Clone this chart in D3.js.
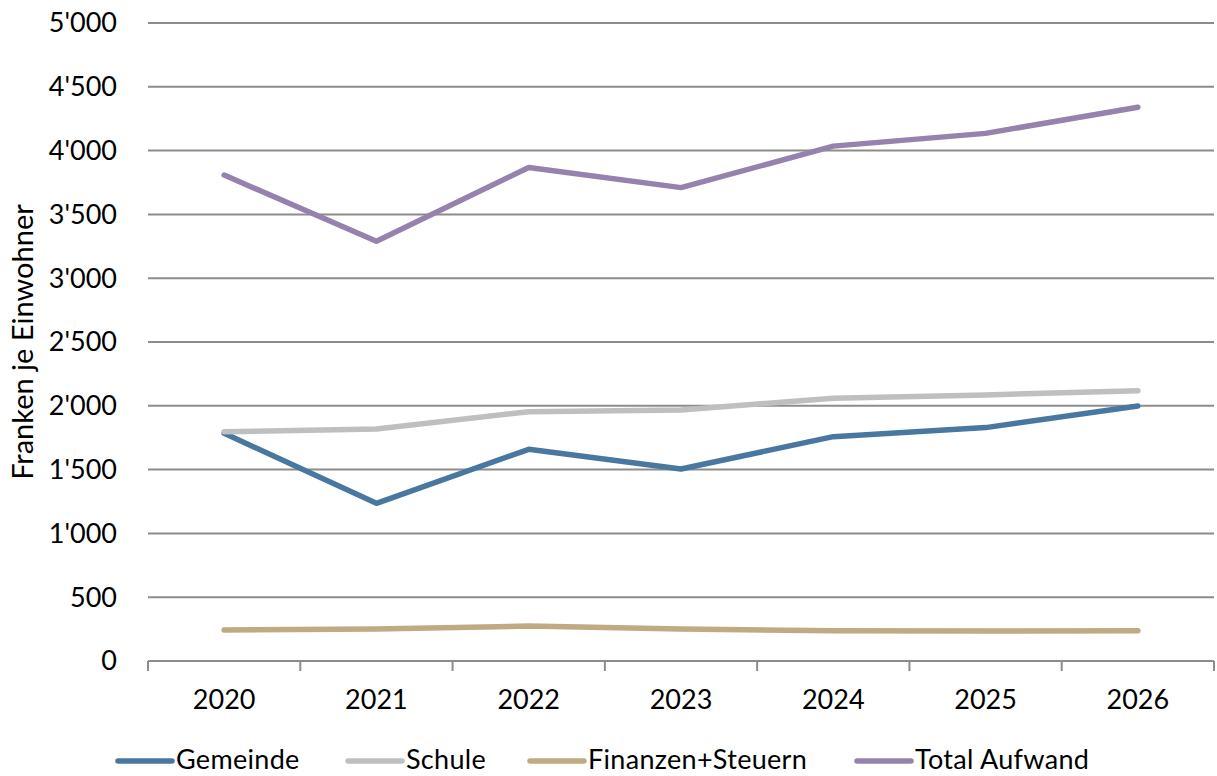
<!DOCTYPE html>
<html><head><meta charset="utf-8">
<script src="https://cdn.jsdelivr.net/npm/d3@7"></script>
<style>body{margin:0;background:#fff}svg{display:block}text{font-family:Lato,"Open Sans",sans-serif;fill:#000}</style>
</head><body><svg id="c" width="1217" height="776"></svg>
<script>
const years = ["2020","2021","2022","2023","2024","2025","2026"];
const gemeinde = [1784, 1236, 1659, 1505, 1758, 1829, 1998];
const schule = [1797, 1818, 1954, 1967, 2059, 2085, 2118];
const finanzen = [243, 251, 274, 250, 238, 235, 238];
const total = [3808, 3290, 3868, 3710, 4035, 4135, 4340];
const seriesNames = ["Gemeinde","Schule","Finanzen+Steuern","Total Aufwand"];
const seriesColors = ["#48789f","#bfbfbf","#bfaa82","#9582ad"];
const yTicks = [0,500,1000,1500,2000,2500,3000,3500,4000,4500,5000];
const yTitle = "Franken je Einwohner";

const series = [gemeinde, schule, finanzen, total].map((v,i)=>({name:seriesNames[i],color:seriesColors[i],values:v}));
const svg = d3.select("#c");
const L=148, R=1214, T=23, B=661;
const x = d3.scaleBand().domain(years).range([L,R]);
const y = d3.scaleLinear().domain([0,5000]).range([B,T]);
const fmt = v => d3.format(",")(v).replace(/,/g,"'");

// gridlines
svg.append("g").selectAll("line").data(yTicks.filter(d=>d>0)).join("line")
  .attr("x1",L).attr("x2",R).attr("y1",d=>y(d)).attr("y2",d=>y(d))
  .attr("stroke","#8c8c8c").attr("stroke-width",2);
// y labels
svg.append("g").selectAll("text").data(yTicks).join("text")
  .attr("x",117).attr("y",d=>y(d)).attr("dy","0.35em").attr("text-anchor","end")
  .style("font-size","27px").text(fmt);
// x axis
svg.append("line").attr("x1",L).attr("x2",R).attr("y1",B).attr("y2",B).attr("stroke","#8c8c8c").attr("stroke-width",2);
const bounds = years.map(d=>x(d)).concat([R]);
svg.append("g").selectAll("line").data(bounds).join("line")
  .attr("x1",d=>d).attr("x2",d=>d).attr("y1",B).attr("y2",B+10).attr("stroke","#8c8c8c").attr("stroke-width",2);
svg.append("g").selectAll("text").data(years).join("text")
  .attr("x",d=>x(d)+x.bandwidth()/2).attr("y",700).attr("dy","0.35em").attr("text-anchor","middle")
  .style("font-size","27px").text(d=>d);
// y title
svg.append("text").attr("transform","translate(23,342) rotate(-90)").attr("text-anchor","middle").attr("dy","0.35em")
  .style("font-size","29px").text(yTitle);
// lines
const line = d3.line().x((d,i)=>x(years[i])+x.bandwidth()/2).y(d=>y(d));
svg.append("g").selectAll("path").data(series).join("path")
  .attr("d",d=>line(d.values)).attr("fill","none").attr("stroke",d=>d.color)
  .attr("stroke-width",5.5).attr("stroke-linecap","round").attr("stroke-linejoin","round");
// legend
const legX = [118,348,530,857];
const lg = svg.append("g").selectAll("g").data(series).join("g").attr("transform",(d,i)=>`translate(${legX[i]},761)`);
lg.append("line").attr("x1",0).attr("x2",54).attr("stroke",d=>d.color).attr("stroke-width",5.5).attr("stroke-linecap","round");
lg.append("text").attr("x",58).attr("y",-1).attr("dy","0.35em").style("font-size","27px").style("letter-spacing","0.3px").text(d=>d.name);
</script></body></html>
